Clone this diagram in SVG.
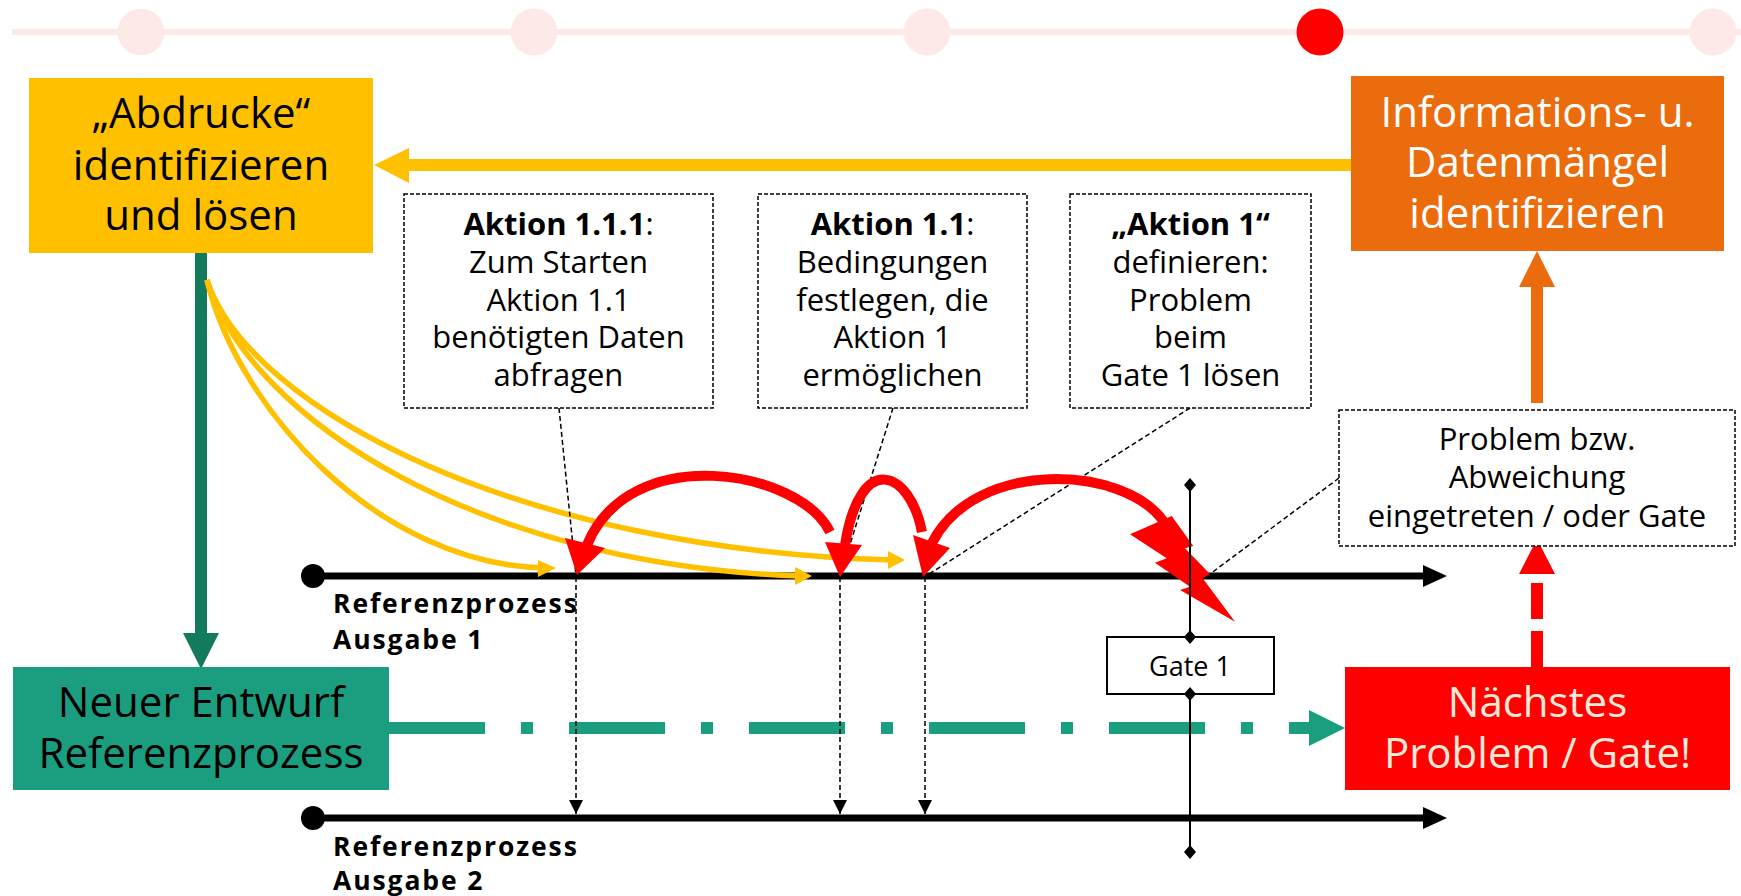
<svg xmlns="http://www.w3.org/2000/svg" width="1741" height="896" viewBox="0 0 1741 896">
<defs>
<style>
.big{font-family:"Open Sans","Noto Sans","Liberation Sans",sans-serif;font-size:42px;text-anchor:middle}
.mid{font-family:"Open Sans","Noto Sans","Liberation Sans",sans-serif;font-size:31px;text-anchor:middle;fill:#000}
.lbl{font-family:"Open Sans","Noto Sans","Liberation Sans",sans-serif;font-size:26.5px;font-weight:bold;letter-spacing:1.9px;fill:#000}
.b{font-weight:bold}
.dbox{fill:#fff;stroke:#000;stroke-width:1.5;stroke-dasharray:4 2}
.lead{stroke:#000;stroke-width:1.5;stroke-dasharray:5 3;fill:none}
.yarc{stroke:#FFC000;stroke-width:5.5;fill:none}
.rarc{stroke:#FF0000;stroke-width:10;fill:none}
.pink{fill:#FDE9E7}
.dia{fill:#000}
</style>
<marker id="ah" viewBox="0 0 10 10" refX="10" refY="5" markerWidth="14" markerHeight="14" markerUnits="userSpaceOnUse" orient="auto">
<path d="M0,0 L10,5 L0,10 z" fill="#000"/>
</marker>
</defs>
<rect width="1741" height="896" fill="#fff"/>

<g id="progress">
<rect x="12" y="29" width="1729" height="6" class="pink"/>
<circle cx="141" cy="32" r="23.5" class="pink"/>
<circle cx="534" cy="32" r="23.5" class="pink"/>
<circle cx="927" cy="32" r="23.5" class="pink"/>
<circle cx="1320" cy="32" r="23.5" fill="#FF0000"/>
<circle cx="1713" cy="32" r="23.5" class="pink"/>
</g>

<g id="timeline1">
<rect x="313" y="572.5" width="1112" height="7" fill="#000"/>
<circle cx="313" cy="576" r="12" fill="#000"/>
<polygon points="1423,565 1447,576 1423,587" fill="#000"/>
<text class="lbl" x="333" y="613">Referenzprozess</text>
<text class="lbl" x="333" y="649">Ausgabe 1</text>
</g>
<g id="timeline2">
<rect x="313" y="814.5" width="1112" height="7" fill="#000"/>
<circle cx="313" cy="818" r="12" fill="#000"/>
<polygon points="1423,807 1447,818 1423,829" fill="#000"/>
<text class="lbl" x="333" y="856">Referenzprozess</text>
<text class="lbl" x="333" y="890">Ausgabe 2</text>
</g>

<g id="connectors">
<rect x="408" y="159" width="944" height="12" fill="#FFC000"/>
<polygon points="374,165 409,148 409,183" fill="#FFC000"/>
<rect x="195" y="252" width="12" height="382" fill="#147A5E"/>
<polygon points="183,633 219,633 201,669" fill="#147A5E"/>
<rect x="1531" y="286" width="12" height="117" fill="#EA6C0C"/>
<polygon points="1519,287 1555,287 1537,251" fill="#EA6C0C"/>
<line x1="389" y1="728" x2="1311" y2="728" stroke="#1B9E7F" stroke-width="12" stroke-dasharray="96 36 12 36"/>
<polygon points="1309,710 1345,728 1309,746" fill="#1B9E7F"/>
<line x1="1537" y1="667" x2="1537" y2="583" stroke="#FF0000" stroke-width="12" stroke-dasharray="36 12"/>
<polygon points="1519,574 1555,574 1537,539" fill="#FF0000"/>
<path class="yarc" d="M207,280 C238,410 380,565 545,568"/>
<polygon points="538,560 556,568 538,577" fill="#FFC000"/>
<path class="yarc" d="M207,280 C250,420 480,565 800,576"/>
<polygon points="795,567 812,576 795,585" fill="#FFC000"/>
<path class="yarc" d="M207,280 C250,410 520,550 892,560"/>
<polygon points="888,551 905,560 888,569" fill="#FFC000"/>
<line class="lead" x1="559" y1="408" x2="576" y2="576"/>
<line class="lead" x1="893" y1="408" x2="840" y2="576"/>
<line class="lead" x1="1190" y1="408" x2="926" y2="576"/>
<line class="lead" x1="1339" y1="478" x2="1210" y2="574"/>
<line class="lead" x1="576" y1="577" x2="576" y2="814" marker-end="url(#ah)"/>
<line class="lead" x1="840" y1="577" x2="840" y2="814" marker-end="url(#ah)"/>
<line class="lead" x1="925" y1="577" x2="925" y2="814" marker-end="url(#ah)"/>
<path class="rarc" d="M830,532 C800,470 630,440 587,545"/>
<polygon points="565,538 605,548 577,575" fill="#FF0000"/>
<path class="rarc" d="M922,532 C910,470 860,450 845,545"/>
<polygon points="825,542 862,545 840,577" fill="#FF0000"/>
<path class="rarc" d="M1164,522 C1125,465 975,458 932,543"/>
<polygon points="913,535 950,548 923,577" fill="#FF0000"/>
<polygon points="1171.7,516 1193.3,546 1185,548.3 1210,574 1202.7,578.3 1235,621.7 1180,590 1190,586.7 1155,562.7 1166.7,558.3 1130,534.3" fill="#FF0000"/>
</g>

<g id="n-gate">
<line x1="1190" y1="485" x2="1190" y2="852" stroke="#000" stroke-width="2"/>
<polygon class="dia" points="1190,478 1196,485 1190,492 1184,485"/>
<rect x="1107" y="637" width="167" height="57" fill="#fff" stroke="#000" stroke-width="2"/>
<polygon class="dia" points="1190,630 1196,637 1190,644 1184,637"/>
<polygon class="dia" points="1190,687 1196,694 1190,701 1184,694"/>
<polygon class="dia" points="1190,845 1196,852 1190,859 1184,852"/>
<text class="mid" x="1190" y="676" style="font-size:27px">Gate 1</text>
</g>

<g id="n-abdrucke">
<rect x="29" y="78" width="344" height="175" fill="#FFC000"/>
<text class="big" x="201" y="128" fill="#000">„Abdrucke“</text>
<text class="big" x="201" y="180" fill="#000">identifizieren</text>
<text class="big" x="201" y="230" fill="#000">und lösen</text>
</g>

<g id="n-info">
<rect x="1351" y="76" width="373" height="175" fill="#EA6C0C"/>
<text class="big" x="1537.5" y="127" fill="#fff">Informations- u.</text>
<text class="big" x="1537.5" y="177" fill="#fff">Datenmängel</text>
<text class="big" x="1537.5" y="228" fill="#fff">identifizieren</text>
</g>

<g id="n-neuer">
<rect x="13" y="667" width="376" height="123" fill="#1B9E7F"/>
<text class="big" x="201" y="717" fill="#000">Neuer Entwurf</text>
<text class="big" x="201" y="768" fill="#000">Referenzprozess</text>
</g>

<g id="n-naechstes">
<rect x="1345" y="667" width="385" height="123" fill="#FF0000"/>
<text class="big" x="1537.5" y="717" fill="#FDE9D9">Nächstes</text>
<text class="big" x="1537.5" y="768" fill="#FDE9D9">Problem / Gate!</text>
</g>

<g id="n-a111">
<rect class="dbox" x="404" y="194" width="309" height="214"/>
<text class="mid" x="558.5" y="235"><tspan class="b">Aktion 1.1.1</tspan>:</text>
<text class="mid" x="558.5" y="273">Zum Starten</text>
<text class="mid" x="558.5" y="311">Aktion 1.1</text>
<text class="mid" x="558.5" y="348">benötigten Daten</text>
<text class="mid" x="558.5" y="386">abfragen</text>
</g>

<g id="n-a11">
<rect class="dbox" x="758" y="194" width="269" height="214"/>
<text class="mid" x="892.5" y="235"><tspan class="b">Aktion 1.1</tspan>:</text>
<text class="mid" x="892.5" y="273">Bedingungen</text>
<text class="mid" x="892.5" y="311">festlegen, die</text>
<text class="mid" x="892.5" y="348">Aktion 1</text>
<text class="mid" x="892.5" y="386">ermöglichen</text>
</g>

<g id="n-a1">
<rect class="dbox" x="1070" y="194" width="241" height="214"/>
<text class="mid b" x="1190.5" y="235">„Aktion 1“</text>
<text class="mid" x="1190.5" y="273">definieren:</text>
<text class="mid" x="1190.5" y="311">Problem</text>
<text class="mid" x="1190.5" y="348">beim</text>
<text class="mid" x="1190.5" y="386">Gate 1 lösen</text>
</g>

<g id="n-problem">
<rect class="dbox" x="1339" y="410" width="396" height="136"/>
<text class="mid" x="1537" y="450">Problem bzw.</text>
<text class="mid" x="1537" y="488">Abweichung</text>
<text class="mid" x="1537" y="527">eingetreten / oder Gate</text>
</g>
</svg>
